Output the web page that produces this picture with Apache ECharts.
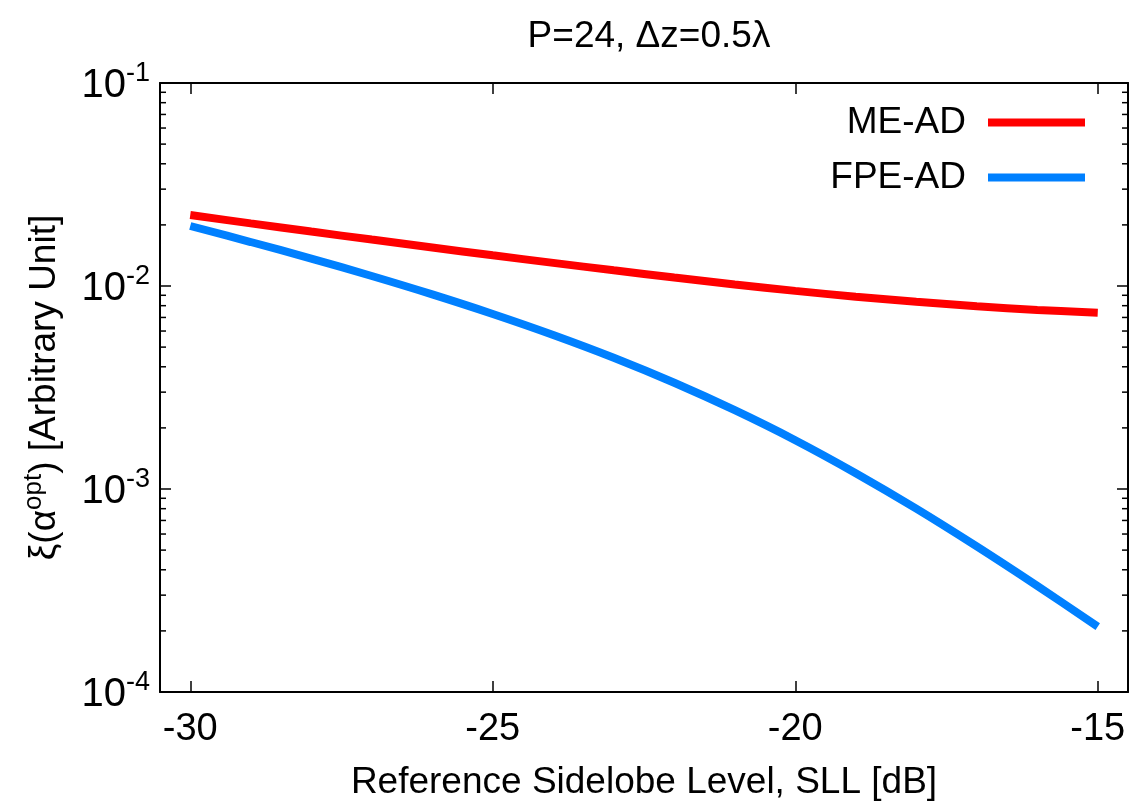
<!DOCTYPE html>
<html>
<head>
<meta charset="utf-8">
<script src="https://cdn.jsdelivr.net/npm/echarts@6/dist/echarts.min.js"></script>
<style>
  html, body { margin: 0; padding: 0; background: #ffffff; }
  #chart { width: 1136px; height: 807px; }
</style>
</head>
<body>
<div id="chart"></div>
<script>
// Reference sidelobe level (dB)
const sll = [-30, -29, -28, -27, -26, -25, -24, -23, -22, -21, -20, -19, -18, -17, -16, -15];
// Optimal cost for the two synthesis approaches
const meAD = [0.02238, 0.02034, 0.01854, 0.01693, 0.01548, 0.01416, 0.01300, 0.01195,
              0.01101, 0.01018, 0.00946, 0.00886, 0.00836, 0.00795, 0.007625, 0.00739];
const fpeAD = [0.01975, 0.01647, 0.013646, 0.01120, 0.00909, 0.00728, 0.005736, 0.00443,
               0.003336, 0.002444, 0.001739, 0.001196, 0.000800, 0.000521, 0.000333, 0.00021];
// Axis ticks
const xTicks = [-30, -25, -20, -15];
const X_MIN = -30.5, X_MAX = -14.5;
const Y_MIN = 1e-4, Y_MAX = 1e-1;

const FONT = '"Liberation Sans", Arial, Helvetica, sans-serif';
const FS = 37;

// minor ticks of the log axis: k * 10^n, k = 2..9
const minorVals = [];
for (let n = -4; n < -1; n++) {
  for (let k = 2; k <= 9; k++) minorVals.push(k * Math.pow(10, n));
}

const chart = echarts.init(document.getElementById('chart'), null, { renderer: 'canvas' });

const pair = (xs, ys) => xs.map((x, i) => [x, ys[i]]);

const xBase = {
  type: 'value', min: X_MIN, max: X_MAX,
  splitLine: { show: false },
  axisLine: { show: true, onZero: false, lineStyle: { color: '#000', width: 2 } },
  axisTick: { show: true, inside: true, length: 11, customValues: xTicks, lineStyle: { color: '#000', width: 1.5 } }
};

const logBase = {
  type: 'log', logBase: 10, min: Y_MIN, max: Y_MAX,
  splitLine: { show: false },
  axisLine: { show: true, lineStyle: { color: '#000', width: 2 } },
  axisTick: { show: true, inside: true, length: 11, lineStyle: { color: '#000', width: 1.5 } }
};

// short inward tick marks on both vertical borders at the minor log positions
function renderMinorTick(params, api) {
  const cs = params.coordSys;
  const p = api.coord([api.value(0), api.value(1)]);
  const len = 6;
  const style = { stroke: '#000', lineWidth: 1.5 };
  return {
    type: 'group',
    children: [
      { type: 'line', shape: { x1: cs.x, y1: p[1], x2: cs.x + len, y2: p[1] }, style: style },
      { type: 'line', shape: { x1: cs.x + cs.width, y1: p[1], x2: cs.x + cs.width - len, y2: p[1] }, style: style }
    ]
  };
}

const option = {
  backgroundColor: '#ffffff',
  animation: false,
  textStyle: { fontFamily: FONT, color: '#000' },
  title: {
    text: 'P=24, \u0394z=0.5\u03bb',
    left: 644, top: 13, textAlign: 'center',
    textStyle: { fontFamily: FONT, fontSize: FS, fontWeight: 'normal', color: '#000' }
  },
  legend: {
    orient: 'vertical', right: 46, top: 97, align: 'right',
    icon: 'rect', itemWidth: 97, itemHeight: 8, itemGap: 14,
    textStyle: { fontFamily: FONT, fontSize: FS, color: '#000', padding: [0, 17, 0, 0], lineHeight: 41 },
    data: ['ME-AD', 'FPE-AD']
  },
  grid: { left: 160, right: 8, top: 83, bottom: 115, containLabel: false },
  xAxis: [
    Object.assign({}, xBase, {
      position: 'bottom',
      name: 'Reference Sidelobe Level, SLL [dB]',
      nameLocation: 'middle', nameGap: 72,
      nameTextStyle: { fontFamily: FONT, fontSize: FS, color: '#000' },
      axisLabel: { show: true, customValues: xTicks, margin: 19, fontFamily: FONT, fontSize: 38, color: '#000' }
    }),
    Object.assign({}, xBase, { position: 'top', axisLabel: { show: false } })
  ],
  yAxis: [
    Object.assign({}, logBase, {
      position: 'left',
      name: '{n|\u03be(\u03b1}{s|opt}{n|) [Arbitrary Unit]}',
      nameLocation: 'middle', nameGap: 97,
      nameTextStyle: {
        rich: {
          n: { fontFamily: FONT, fontSize: 37, color: '#000', verticalAlign: 'bottom', lineHeight: 42 },
          s: { fontFamily: FONT, fontSize: 26, color: '#000', verticalAlign: 'top', lineHeight: 42 }
        }
      },
      axisLabel: {
        show: true, margin: 10,
        formatter: v => '{b|10}{s|' + Math.round(Math.log10(v)) + '}',
        rich: {
          b: { fontFamily: FONT, fontSize: 40, color: '#000', verticalAlign: 'bottom', lineHeight: 45 },
          s: { fontFamily: FONT, fontSize: 27, color: '#000', verticalAlign: 'top', lineHeight: 45 }
        }
      }
    }),
    Object.assign({}, logBase, { position: 'right', axisLabel: { show: false } })
  ],
  series: [
    {
      name: 'ME-AD', type: 'line', xAxisIndex: 0, yAxisIndex: 0,
      data: pair(sll, meAD), smooth: 0.35, showSymbol: false, symbol: 'none',
      color: '#ff0000', lineStyle: { color: '#ff0000', width: 8 }
    },
    {
      name: 'FPE-AD', type: 'line', xAxisIndex: 0, yAxisIndex: 0,
      data: pair(sll, fpeAD), smooth: 0.35, showSymbol: false, symbol: 'none',
      color: '#0080ff', lineStyle: { color: '#0080ff', width: 8 }
    },
    {
      type: 'custom', xAxisIndex: 0, yAxisIndex: 0, silent: true, clip: false,
      data: minorVals.map(v => [X_MIN, v]),
      renderItem: renderMinorTick
    }
  ]
};

chart.setOption(option);
</script>
</body>
</html>
